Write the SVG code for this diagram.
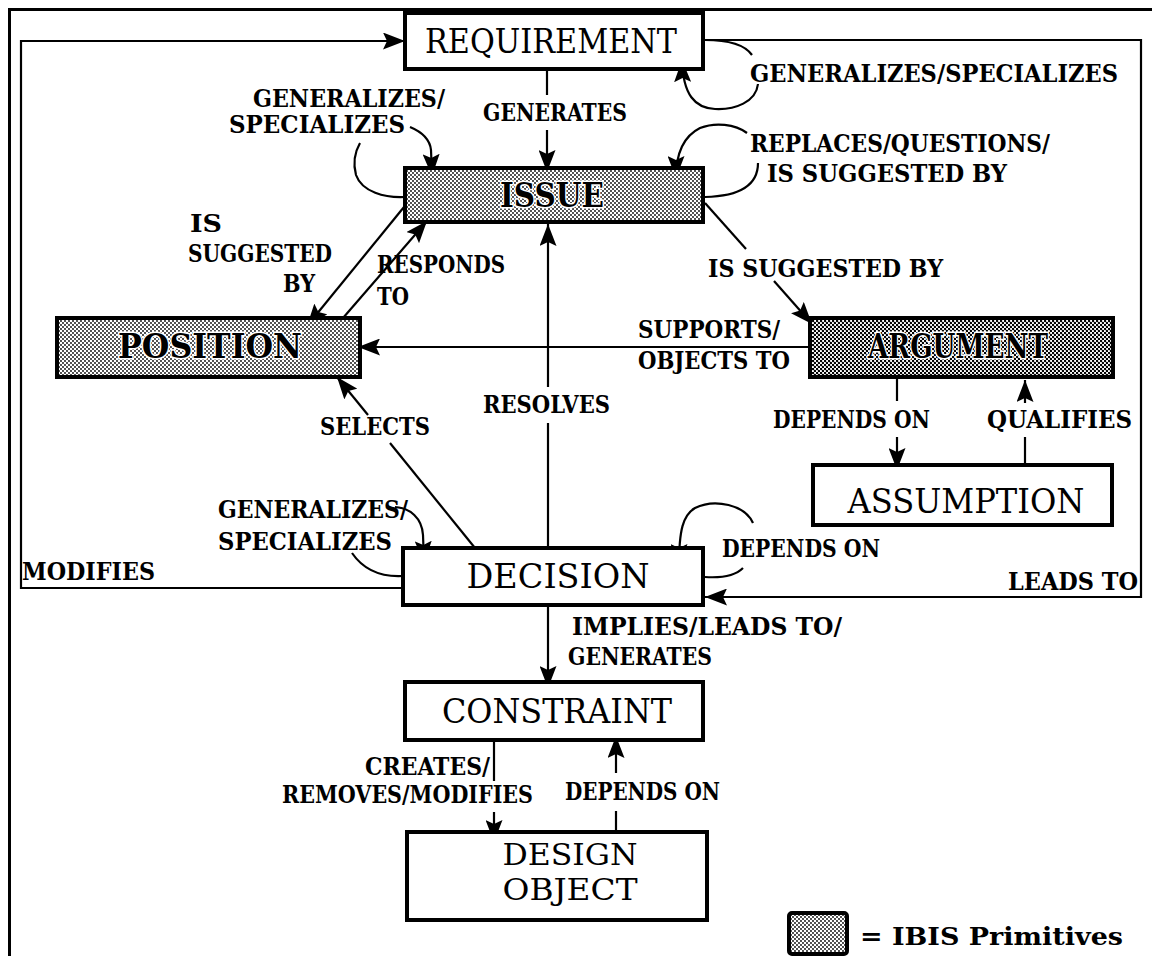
<svg xmlns="http://www.w3.org/2000/svg" width="1152" height="956" viewBox="0 0 1152 956">
  <style>
    .box { fill: #ffffff; stroke: #000000; stroke-width: 4; }
    .ibis { fill: url(#dots); stroke: #000000; stroke-width: 4; }
    .ibis-dark { fill: url(#dotsDark); stroke: #000000; stroke-width: 4; }
    .node-label { font-family: "DejaVu Serif", "Liberation Serif", serif; font-size: 34px; fill: #000000; text-anchor: middle; }
    .node-label-small { font-family: "DejaVu Serif", "Liberation Serif", serif; font-size: 30px; fill: #000000; text-anchor: middle; }
    .node-label-ibis { font-family: "DejaVu Serif", "Liberation Serif", serif; font-size: 34px; font-weight: bold; fill: #000000; text-anchor: middle; stroke: #ffffff; stroke-width: 3; paint-order: stroke; }
    .edge { fill: none; stroke: #000000; stroke-width: 2.2; }
    .arrow { marker-end: url(#head); }
    .frame { fill: none; stroke: #000000; stroke-width: 3; }
    .label { font-family: "DejaVu Serif", "Liberation Serif", serif; font-stretch: condensed; font-size: 25px; font-weight: bold; fill: #000000; }
  </style>
  <defs>
    <pattern id="dots" width="4" height="4" patternUnits="userSpaceOnUse">
      <rect width="4" height="4" fill="#ffffff"/>
      <circle cx="1" cy="1" r="0.9" fill="#000000"/>
      <circle cx="3" cy="3" r="0.9" fill="#000000"/>
    </pattern>
    <pattern id="dotsDark" width="4" height="4" patternUnits="userSpaceOnUse">
      <rect width="4" height="4" fill="#ffffff"/>
      <circle cx="1" cy="1" r="1.25" fill="#000000"/>
      <circle cx="3" cy="3" r="1.25" fill="#000000"/>
    </pattern>
    <marker id="head" viewBox="0 0 22 17" refX="22" refY="8.5" markerWidth="22" markerHeight="17" markerUnits="userSpaceOnUse" orient="auto">
      <path d="M0,0 L22,8.5 L0,17 L4,8.5 Z" fill="#000000"/>
    </marker>
  </defs>

  <!-- page border -->
  <polyline class="frame" points="9.5,956 9.5,9.5 1152,9.5"/>

  <g id="connectors">
    <!-- DECISION modifies REQUIREMENT (left loop) -->
    <path class="edge arrow" d="M403,588 L21,588 L21,41 L405,41"/>
    <!-- REQUIREMENT leads to DECISION (right loop) -->
    <path class="edge arrow" d="M703,40 L1141,40 L1141,597 L705,597"/>
    <!-- REQUIREMENT self loop -->
    <path class="edge" d="M705,40 C728,40 745,45 752,55"/>
    <path class="edge arrow" d="M758,84 C756,102 735,110 715,109 C695,108 683,95 682,60"/>
    <!-- REQUIREMENT generates ISSUE -->
    <path class="edge" d="M547,69 L547,95"/>
    <path class="edge arrow" d="M547,130 L547,172"/>
    <!-- ISSUE self loop, left -->
    <path class="edge" d="M405,197 C385,198 362,192 356,175 C352,160 356,150 360,143"/>
    <path class="edge arrow" d="M410,127 C422,132 430,140 431,150 L432,176"/>
    <!-- ISSUE self loop, right -->
    <path class="edge arrow" d="M747,133 C735,124 715,122 700,128 C688,134 676,148 676,178"/>
    <path class="edge" d="M758,163 C758,180 748,196 705,197"/>
    <!-- ISSUE is suggested by POSITION -->
    <path class="edge arrow" d="M404,207 L307,326"/>
    <!-- POSITION responds to ISSUE -->
    <path class="edge arrow" d="M343,318 L427,221"/>
    <!-- ARGUMENT supports / objects to POSITION -->
    <path class="edge arrow" d="M810,347 L358,347"/>
    <!-- ISSUE is suggested by ARGUMENT -->
    <path class="edge" d="M705,203 L746,249"/>
    <path class="edge arrow" d="M774,281 L812,324"/>
    <!-- ARGUMENT depends on ASSUMPTION -->
    <path class="edge" d="M897,377 L897,401"/>
    <path class="edge arrow" d="M897,437 L897,470"/>
    <!-- ASSUMPTION qualifies ARGUMENT -->
    <path class="edge" d="M1025,465 L1025,437"/>
    <path class="edge arrow" d="M1025,403 L1025,380"/>
    <!-- DECISION selects POSITION -->
    <path class="edge" d="M475,548 L390,443"/>
    <path class="edge arrow" d="M368,415 L337,377"/>
    <!-- DECISION resolves ISSUE -->
    <path class="edge" d="M548,548 L548,423"/>
    <path class="edge arrow" d="M548,387 L548,224"/>
    <!-- DECISION self loop, left -->
    <path class="edge" d="M403,576 C385,577 365,572 352,553"/>
    <path class="edge arrow" d="M395,507 C410,508 422,518 423,535 L424,563"/>
    <!-- DECISION self loop, right -->
    <path class="edge arrow" d="M753,523 C745,505 715,498 695,508 C683,515 679,530 679,566"/>
    <path class="edge" d="M743,568 C735,576 720,578 705,577"/>
    <!-- DECISION implies CONSTRAINT -->
    <path class="edge arrow" d="M548,605 L548,688"/>
    <!-- CONSTRAINT creates DESIGN OBJECT -->
    <path class="edge" d="M494,740 L494,781"/>
    <path class="edge arrow" d="M494,812 L494,842"/>
    <!-- DESIGN OBJECT depends on CONSTRAINT -->
    <path class="edge" d="M616,832 L616,811"/>
    <path class="edge arrow" d="M616,773 L616,736"/>
  </g>

  <g id="edge-labels">
    <text class="label" x="750" y="82" textLength="368" lengthAdjust="spacingAndGlyphs">GENERALIZES/SPECIALIZES</text>
    <text class="label" x="483" y="121" textLength="144" lengthAdjust="spacingAndGlyphs">GENERATES</text>
    <text class="label" x="253" y="107" textLength="192" lengthAdjust="spacingAndGlyphs">GENERALIZES/</text>
    <text class="label" x="229" y="133" textLength="176" lengthAdjust="spacingAndGlyphs">SPECIALIZES</text>
    <text class="label" x="750" y="152" textLength="300" lengthAdjust="spacingAndGlyphs">REPLACES/QUESTIONS/</text>
    <text class="label" x="767" y="182" textLength="240" lengthAdjust="spacingAndGlyphs">IS SUGGESTED BY</text>
    <text class="label" x="190" y="232" textLength="32" lengthAdjust="spacingAndGlyphs">IS</text>
    <text class="label" x="188" y="262" textLength="144" lengthAdjust="spacingAndGlyphs">SUGGESTED</text>
    <text class="label" x="283" y="292" textLength="32" lengthAdjust="spacingAndGlyphs">BY</text>
    <text class="label" x="377" y="273" textLength="128" lengthAdjust="spacingAndGlyphs">RESPONDS</text>
    <text class="label" x="377" y="305" textLength="32" lengthAdjust="spacingAndGlyphs">TO</text>
    <text class="label" x="708" y="277" textLength="235" lengthAdjust="spacingAndGlyphs">IS SUGGESTED BY</text>
    <text class="label" x="638" y="338" textLength="142" lengthAdjust="spacingAndGlyphs">SUPPORTS/</text>
    <text class="label" x="638" y="369" textLength="152" lengthAdjust="spacingAndGlyphs">OBJECTS TO</text>
    <text class="label" x="483" y="413" textLength="127" lengthAdjust="spacingAndGlyphs">RESOLVES</text>
    <text class="label" x="320" y="435" textLength="110" lengthAdjust="spacingAndGlyphs">SELECTS</text>
    <text class="label" x="773" y="428" textLength="157" lengthAdjust="spacingAndGlyphs">DEPENDS ON</text>
    <text class="label" x="987" y="428" textLength="145" lengthAdjust="spacingAndGlyphs">QUALIFIES</text>
    <text class="label" x="218" y="518" textLength="190" lengthAdjust="spacingAndGlyphs">GENERALIZES/</text>
    <text class="label" x="218" y="550" textLength="174" lengthAdjust="spacingAndGlyphs">SPECIALIZES</text>
    <text class="label" x="722" y="557" textLength="158" lengthAdjust="spacingAndGlyphs">DEPENDS ON</text>
    <text class="label" x="22" y="580" textLength="133" lengthAdjust="spacingAndGlyphs">MODIFIES</text>
    <text class="label" x="1008" y="590" textLength="130" lengthAdjust="spacingAndGlyphs">LEADS TO</text>
    <text class="label" x="572" y="635" textLength="270" lengthAdjust="spacingAndGlyphs">IMPLIES/LEADS TO/</text>
    <text class="label" x="568" y="665" textLength="144" lengthAdjust="spacingAndGlyphs">GENERATES</text>
    <text class="label" x="365" y="775" textLength="125" lengthAdjust="spacingAndGlyphs">CREATES/</text>
    <text class="label" x="282" y="803" textLength="251" lengthAdjust="spacingAndGlyphs">REMOVES/MODIFIES</text>
    <text class="label" x="565" y="800" textLength="155" lengthAdjust="spacingAndGlyphs">DEPENDS ON</text>
  </g>

  <g id="requirement">
    <rect class="box" x="405" y="13" width="298" height="56"/>
    <text class="node-label" x="551" y="53" textLength="252" lengthAdjust="spacingAndGlyphs">REQUIREMENT</text>
  </g>
  <g id="issue">
    <rect class="ibis" x="405" y="168" width="298" height="54"/>
    <text class="node-label-ibis" x="552" y="207" textLength="104" lengthAdjust="spacingAndGlyphs">ISSUE</text>
  </g>
  <g id="position">
    <rect class="ibis" x="57" y="318" width="303" height="59"/>
    <text class="node-label-ibis" x="210" y="358" textLength="184" lengthAdjust="spacingAndGlyphs">POSITION</text>
  </g>
  <g id="argument">
    <rect class="ibis-dark" x="810" y="318" width="303" height="59"/>
    <text class="node-label-ibis" x="958" y="358" textLength="180" lengthAdjust="spacingAndGlyphs">ARGUMENT</text>
  </g>
  <g id="assumption">
    <rect class="box" x="813" y="465" width="299" height="60"/>
    <text class="node-label" x="966" y="513" textLength="237" lengthAdjust="spacingAndGlyphs">ASSUMPTION</text>
  </g>
  <g id="decision">
    <rect class="box" x="403" y="548" width="300" height="57"/>
    <text class="node-label" x="558" y="588" textLength="183" lengthAdjust="spacingAndGlyphs">DECISION</text>
  </g>
  <g id="constraint">
    <rect class="box" x="405" y="682" width="298" height="58"/>
    <text class="node-label" x="557" y="723" textLength="230" lengthAdjust="spacingAndGlyphs">CONSTRAINT</text>
  </g>
  <g id="design-object">
    <rect class="box" x="407" y="832" width="300" height="88"/>
    <text class="node-label-small" x="570" y="865" textLength="135" lengthAdjust="spacingAndGlyphs">DESIGN</text>
    <text class="node-label-small" x="570" y="900" textLength="135" lengthAdjust="spacingAndGlyphs">OBJECT</text>
  </g>

  <g id="legend">
    <rect class="ibis" x="789" y="913" width="58" height="41" rx="3"/>
    <text class="label" x="860" y="945" textLength="263" lengthAdjust="spacingAndGlyphs">= IBIS Primitives</text>
  </g>
</svg>
